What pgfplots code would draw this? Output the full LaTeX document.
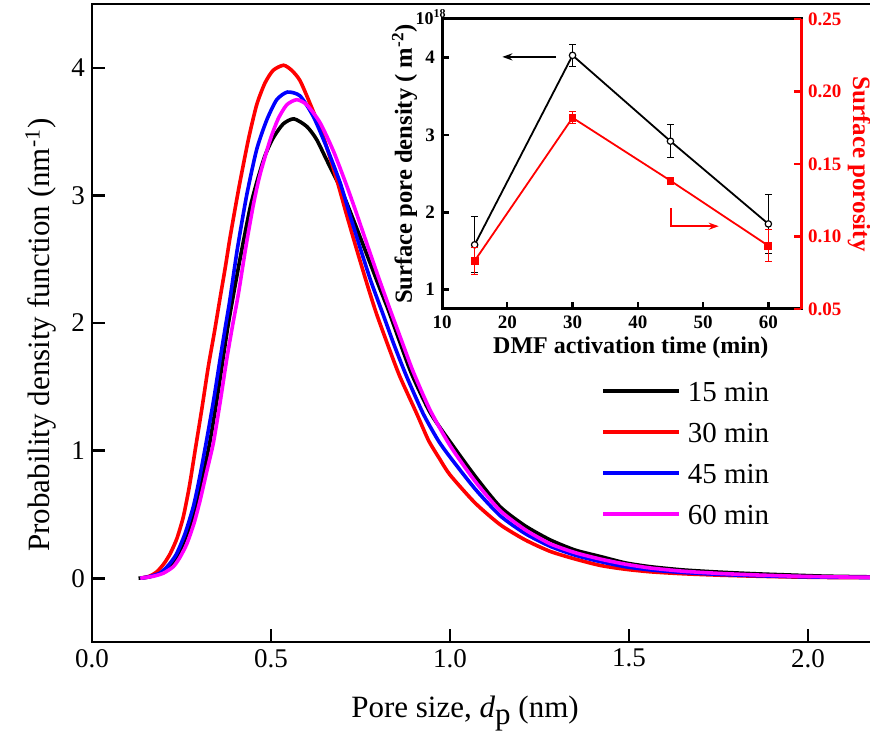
\documentclass[border=0pt]{standalone}
\usepackage{fontspec}
\setmainfont{Liberation Serif}
\usepackage{pgfplots}
\pgfplotsset{compat=1.18}
\usetikzlibrary{arrows.meta}
\definecolor{cRed}{RGB}{255,0,0}
\definecolor{cBlue}{RGB}{0,0,255}
\definecolor{cMag}{RGB}{255,0,255}
\begin{document}
\begin{tikzpicture}
\begin{axis}[
  scale only axis, width=392pt, height=319pt,
  at={(0pt,0pt)}, anchor=south west,
  xmin=0, xmax=2.19, ymin=-0.5, ymax=4.5,
  xtick={0,0.5,1,1.5,2}, ytick={0,1,2,3,4},
  tick pos=left, tick align=inside, major tick length=6.5pt,
  axis line style={line width=1.3pt},
  major tick style={line width=1.3pt, black},
  /pgf/number format/assume math mode=true,
  xticklabel style={/pgf/number format/.cd, fixed, fixed zerofill, precision=1},
  tick label style={font=\fontsize{13.5}{13.5}\selectfont},
  xlabel={Pore size, \textit{d}\raisebox{-0.45ex}{p} (nm)},
  ylabel={Probability density function (nm\textsuperscript{-1})},
  label style={font=\fontsize{15.5}{15.5}\selectfont},
  xlabel style={at={(axis description cs:0.4758,-0.1191)}, anchor=base},
  ylabel style={at={(axis description cs:-0.0536,0.481)}, anchor=base},
  legend style={draw=none, fill=none, inner sep=0pt,
    at={(axis description cs:0.649,0.297)}, anchor=west,
    font=\fontsize{14.5}{14.5}\selectfont, row sep=8.5pt, column sep=2.5pt,
    nodes={inner sep=1pt, text height=10pt, text depth=0pt}},
  legend cell align=left,
  legend image code/.code={\draw[#1, line width=1.8pt] (0pt,0pt) -- (38pt,0pt);},
]
\addplot[black, line width=1.8pt, smooth, tension=0.4] coordinates {
(0.13,0.000) (0.16,0.01) (0.2,0.05) (0.222,0.11) (0.245,0.21) (0.27,0.38)
(0.292,0.58) (0.31,0.80) (0.33,1.08) (0.35,1.42) (0.367,1.74) (0.38,1.98)
(0.395,2.22) (0.41,2.45) (0.425,2.67) (0.443,2.92) (0.462,3.12) (0.483,3.31)
(0.506,3.45) (0.534,3.56) (0.564,3.60) (0.6,3.54) (0.627,3.44) (0.655,3.28)
(0.70,3.02) (0.755,2.63) (0.80,2.30) (0.828,2.10) (0.86,1.85) (0.893,1.60)
(0.944,1.30) (1.0,1.07) (1.07,0.80) (1.14,0.56) (1.21,0.41) (1.28,0.30)
(1.35,0.22) (1.42,0.17) (1.49,0.12) (1.56,0.09) (1.65,0.065) (1.75,0.048)
(1.85,0.035) (1.95,0.025) (2.05,0.016) (2.19,0.01)};
\addlegendentry{15 min}
\addplot[cRed, line width=1.8pt, smooth, tension=0.4] coordinates {
(0.135,0.000) (0.16,0.015) (0.181,0.05) (0.20,0.11) (0.218,0.19) (0.237,0.31)
(0.255,0.48) (0.272,0.72) (0.288,1.00) (0.307,1.33) (0.325,1.66) (0.342,1.93)
(0.358,2.20) (0.372,2.43) (0.385,2.66) (0.40,2.90) (0.413,3.10) (0.437,3.44)
(0.46,3.71) (0.483,3.88) (0.506,3.98) (0.535,4.02) (0.558,3.98) (0.581,3.90)
(0.609,3.72) (0.646,3.46) (0.683,3.13) (0.71,2.86) (0.74,2.57) (0.77,2.29)
(0.795,2.07) (0.83,1.80) (0.86,1.58) (0.907,1.29) (0.94,1.08) (0.97,0.94)
(1.0,0.81) (1.07,0.59) (1.14,0.42) (1.21,0.30) (1.28,0.21) (1.35,0.15)
(1.42,0.10) (1.49,0.07) (1.56,0.05) (1.65,0.035) (1.75,0.024) (1.85,0.016)
(1.95,0.010) (2.05,0.006) (2.19,0.004)};
\addlegendentry{30 min}
\addplot[cBlue, line width=1.8pt, smooth, tension=0.4] coordinates {
(0.135,0.000) (0.16,0.012) (0.19,0.04) (0.213,0.10) (0.236,0.19) (0.26,0.35)
(0.283,0.56) (0.30,0.78) (0.32,1.08) (0.34,1.40) (0.358,1.72) (0.372,1.96)
(0.385,2.18) (0.406,2.58) (0.432,3.00) (0.46,3.36) (0.488,3.59) (0.516,3.75)
(0.546,3.81) (0.581,3.78) (0.618,3.62) (0.655,3.38) (0.693,3.10) (0.72,2.85)
(0.75,2.58) (0.78,2.32) (0.814,2.06) (0.845,1.82) (0.879,1.58) (0.925,1.29)
(0.967,1.08) (1.0,0.95) (1.07,0.70) (1.14,0.49) (1.21,0.35) (1.28,0.25)
(1.35,0.18) (1.42,0.13) (1.49,0.09) (1.56,0.065) (1.65,0.045) (1.75,0.03)
(1.85,0.02) (1.95,0.013) (2.05,0.008) (2.19,0.005)};
\addlegendentry{45 min}
\addplot[cMag, line width=1.8pt, smooth, tension=0.4] coordinates {
(0.135,0.000) (0.171,0.015) (0.2,0.04) (0.227,0.09) (0.245,0.16) (0.265,0.27)
(0.285,0.43) (0.302,0.61) (0.32,0.83) (0.339,1.06) (0.358,1.38) (0.376,1.71)
(0.392,1.97) (0.409,2.23) (0.43,2.60) (0.451,2.93) (0.469,3.16) (0.497,3.43)
(0.52,3.60) (0.544,3.71) (0.572,3.75) (0.6,3.71) (0.637,3.57) (0.674,3.35)
(0.711,3.08) (0.74,2.85) (0.768,2.62) (0.80,2.36) (0.832,2.11) (0.865,1.86)
(0.897,1.62) (0.944,1.32) (1.0,1.04) (1.07,0.76) (1.14,0.53) (1.21,0.38)
(1.28,0.27) (1.35,0.20) (1.42,0.15) (1.49,0.11) (1.56,0.08) (1.65,0.055)
(1.75,0.038) (1.85,0.026) (1.95,0.017) (2.05,0.011) (2.19,0.007)};
\addlegendentry{60 min}
\end{axis}

% inset, left axis
\begin{axis}[
  scale only axis, width=179.5pt, height=145pt,
  at={(175pt,166.5pt)}, anchor=south west,
  xmin=10, xmax=65, ymin=0.75, ymax=4.5,
  clip=false,
  xtick={10,20,30,40,50,60}, ytick={1,2,3,4},
  tick pos=left, tick align=inside, major tick length=3.5pt,
  axis line style={line width=1.5pt},
  major tick style={line width=1.2pt, black},
  /pgf/number format/assume math mode=true,
  tick label style={font=\bfseries\fontsize{9.5}{9.5}\selectfont},
  xlabel={DMF activation time (min)},
  ylabel={Surface pore density ( m\textsuperscript{-2})},
  label style={font=\bfseries\fontsize{12}{12}\selectfont},
  xlabel style={at={(axis description cs:0.526,-0.155)}, anchor=base},
  ylabel style={at={(axis description cs:-0.0836,0.5)}, anchor=base, font=\bfseries\fontsize{12.3}{12.3}\selectfont},
]
\addplot[black, line width=0.9pt, mark=*, mark size=1.6pt,
  mark options={fill=white, draw=black, line width=0.6pt},
  error bars/.cd, y dir=both, y explicit,
  error bar style={line width=0.5pt, black},
  error mark options={rotate=90, mark size=1.6pt, line width=0.5pt, black}]
  coordinates {(15,1.58) +- (0,0.36) (30,4.03) +- (0,0.14) (45,2.92) +- (0,0.21) (60,1.85) +- (0,0.38)};
\draw[-{Stealth[length=5pt,width=3.5pt]}, line width=1pt, black] (axis cs:27.47,4.01) -- (axis cs:19.24,4.01);
\node[anchor=base east, inner sep=0pt, xshift=2.5pt, yshift=-3pt, font=\bfseries\fontsize{9}{9}\selectfont] at (rel axis cs:0,1) {10\textsuperscript{18}};
\end{axis}

% inset, right axis
\begin{axis}[
  scale only axis, width=179.5pt, height=145pt,
  at={(175pt,166.5pt)}, anchor=south west,
  xmin=10, xmax=65, ymin=0.05, ymax=0.25,
  clip=false,
  axis x line=none, axis y line*=right,
  ytick={0.05,0.10,0.15,0.20,0.25},
  tick align=inside, major tick length=3.5pt,
  y axis line style={-, cRed, line width=1.5pt},
  every outer y axis line/.append style={-},
  major tick style={line width=1.2pt, cRed},
  /pgf/number format/assume math mode=true,
  yticklabel style={cRed, /pgf/number format/.cd, fixed, fixed zerofill, precision=2},
  tick label style={font=\bfseries\fontsize{9.5}{9.5}\selectfont},
  ylabel={Surface porosity},
  label style={font=\bfseries\fontsize{12.5}{12.5}\selectfont, cRed},
  ylabel style={at={(axis description cs:1.145,0.5)}, anchor=base, rotate=180},
]
\addplot[cRed, line width=0.9pt, mark=square*, mark size=1.5pt,
  mark options={fill=cRed, draw=cRed},
  error bars/.cd, y dir=both, y explicit,
  error bar style={line width=0.5pt, cRed},
  error mark options={rotate=90, mark size=1.6pt, line width=0.5pt, cRed}]
  coordinates {(15,0.0832) +- (0,0.0094) (30,0.1819) +- (0,0.004) (45,0.1385) +- (0,0.001) (60,0.0936) +- (0,0.011)};
\draw[-{Stealth[length=5pt,width=3.5pt]}, line width=1pt, cRed] (axis cs:45.1,0.1195) -- (axis cs:45.1,0.1071) -- (axis cs:52.4,0.1071);
\end{axis}

\pgfresetboundingbox
\path[use as bounding box] (-46pt,-48pt) rectangle (389pt,321pt);
\end{tikzpicture}
\end{document}
